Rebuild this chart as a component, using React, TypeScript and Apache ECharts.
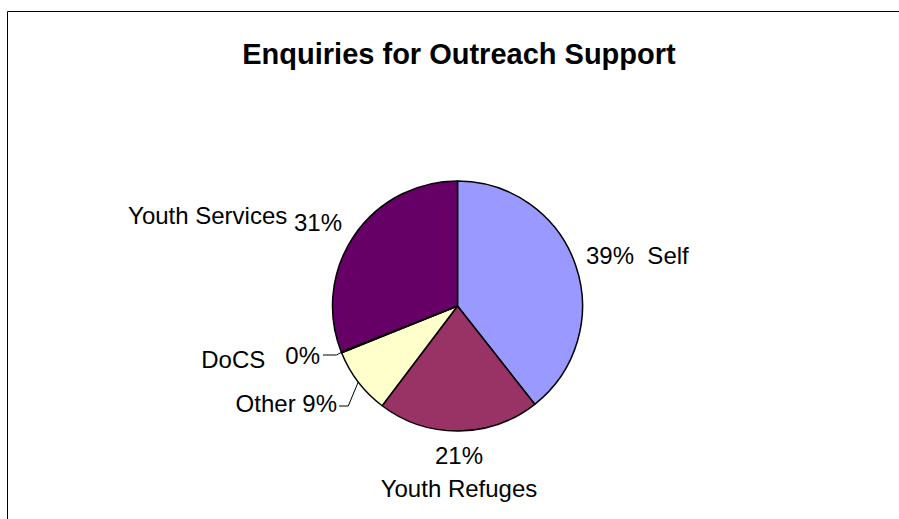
import React, { useEffect, useRef } from "react";
import * as echarts from "echarts";

const titleText = "Enquiries for Outreach Support";
const categories = ["Self", "Youth Refuges", "Other", "DoCS", "Youth Services"];
const values = [39.4, 20.9, 8.6, 0.1, 31.0];
const colors = ["#9999FF", "#993366", "#FFFFCC", "#CCFFFF", "#660066"];

const FONT = "'Liberation Sans', Arial, Helvetica, sans-serif";
const LABEL_SIZE = 24;

// label placement (style only)
const labelSpots: Record<string, { x: number; y: number; align: string }> = {
  Self: { x: 586, y: 255, align: "left" },
  "Youth Refuges": { x: 459, y: 472, align: "center" },
  Other: { x: 337, y: 403, align: "right" },
  DoCS: { x: 320, y: 355, align: "right" },
  "Youth Services": { x: 342, y: 215, align: "right" },
};

export default function App() {
  const ref = useRef<HTMLDivElement>(null);
  useEffect(() => {
    if (!ref.current) return;
    const chart = echarts.init(ref.current, null, { renderer: "svg" });
    const data = categories.map((name, i) => ({
      name,
      value: values[i],
      itemStyle: { color: colors[i] },
      labelLine: { show: name === "DoCS" || name === "Other" },
    }));
    chart.setOption({
      animation: false,
      backgroundColor: "#ffffff",
      graphic: [
        {
          type: "rect",
          silent: true,
          shape: { x: 7.5, y: 11.5, width: 1000, height: 600 },
          style: { fill: "none", stroke: "#000", lineWidth: 1 },
        },
        {
          type: "text",
          x: 459,
          y: 54,
          style: {
            text: titleText,
            fontSize: 29,
            fontWeight: "bold",
            fontFamily: FONT,
            fill: "#000",
            align: "center",
            verticalAlign: "middle",
          },
        },
      ],
      series: [
        {
          type: "pie",
          center: [457.5, 306],
          radius: 125,
          startAngle: 90,
          clockwise: true,
          avoidLabelOverlap: false,
          itemStyle: { borderColor: "#000", borderWidth: 1.5 },
          emphasis: { disabled: true },
          label: {
            show: true,
            position: "outside",
            color: "#000",
            fontSize: LABEL_SIZE,
            fontFamily: FONT,
            lineHeight: 33,
            formatter: (p: any) => {
              const pct = Math.round(p.percent) + "%";
              switch (p.name) {
                case "Self":
                  return `${pct}  ${p.name}`;
                case "Youth Refuges":
                  return `${pct}\n${p.name}`;
                case "Youth Services":
                  return `{n|${p.name}} {p|${pct}}`;
                case "DoCS":
                  return `{d|${p.name}}   {n|${pct}}`;
                default:
                  return `{n|${p.name} ${pct}}`;
              }
            },
            rich: {
              n: { fontSize: LABEL_SIZE, fontFamily: FONT, color: "#000" },
              p: { fontSize: LABEL_SIZE, fontFamily: FONT, color: "#000", padding: [14, 0, 0, 0] },
              d: { fontSize: LABEL_SIZE, fontFamily: FONT, color: "#000", padding: [8, 0, 0, 0] },
            },
          },
          labelLine: {
            show: true,
            length: 10,
            length2: 10,
            lineStyle: { color: "#000", width: 1 },
          },
          labelLayout: (params: any) => {
            const name = categories[params.dataIndex];
            const spot = labelSpots[name];
            const out: any = {
              x: spot.x,
              y: spot.y,
              align: spot.align,
              verticalAlign: "middle",
            };
            const pts = params.labelLinePoints;
            if (pts && pts[0]) {
              const p0 = pts[0];
              if (name === "DoCS") {
                out.labelLinePoints = [p0, [p0[0] - 5, spot.y], [spot.x + 3, spot.y]];
              } else if (name === "Other") {
                out.labelLinePoints = [p0, [p0[0] - 10, spot.y + 3], [spot.x + 2, spot.y + 3]];
              }
            }
            return out;
          },
          data,
        },
      ],
    });
    return () => chart.dispose();
  }, []);
  return (
    <div
      ref={ref}
      style={{ position: "absolute", left: 0, top: 0, width: 899, height: 519, background: "#fff" }}
    />
  );
}
